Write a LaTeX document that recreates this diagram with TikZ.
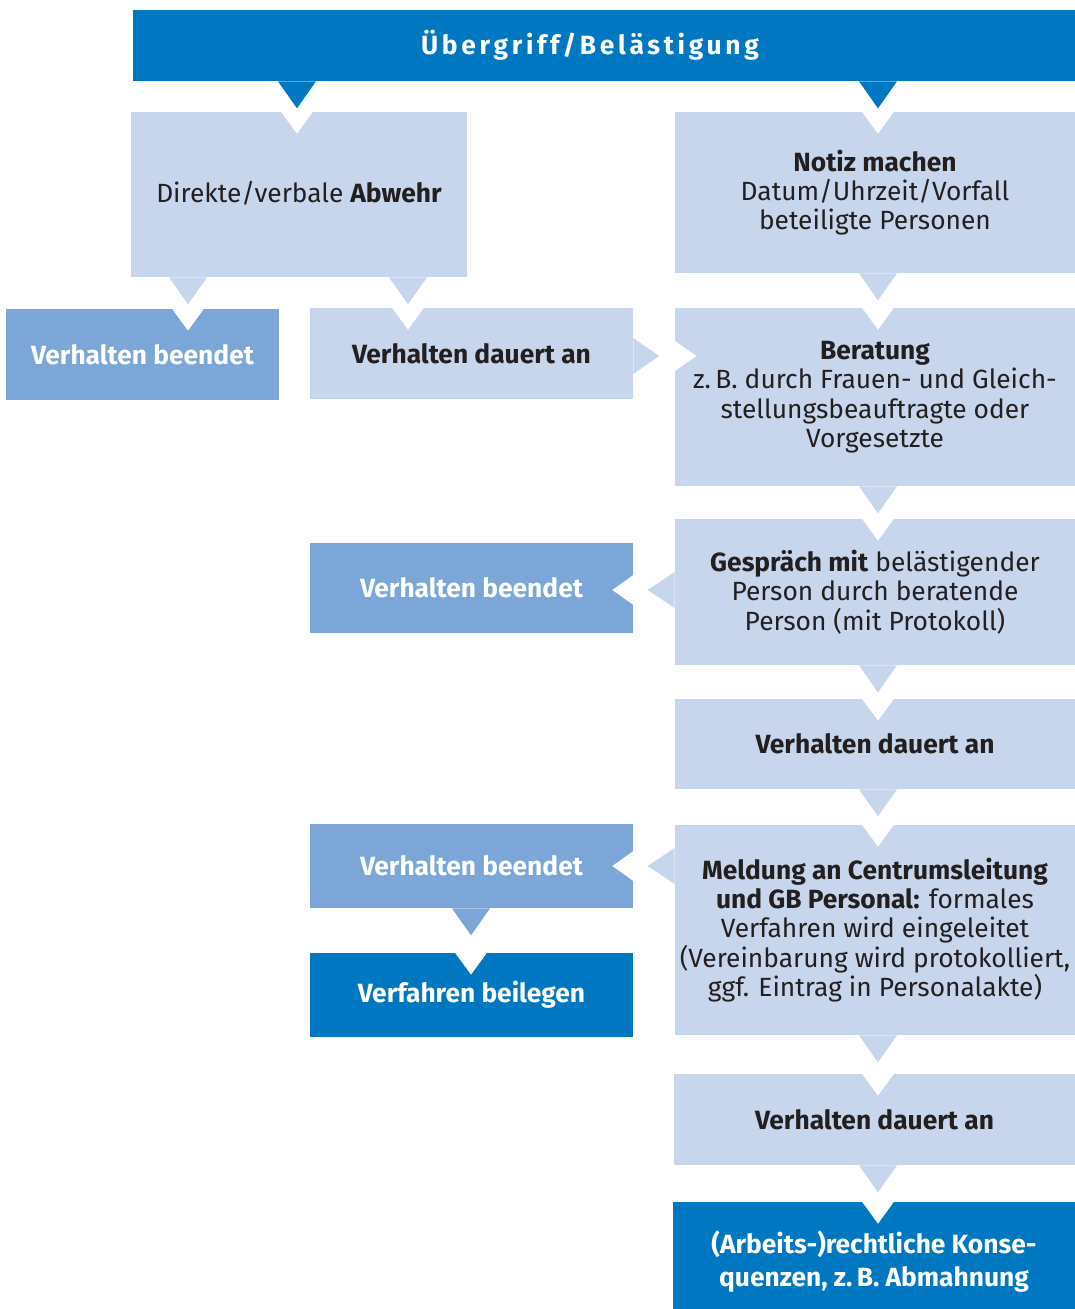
\documentclass[tikz,border=0pt]{standalone}
\usepackage{fontspec}
\setmainfont{Fira Sans}
\usepackage{tikz}

\definecolor{darkblue}{RGB}{0,120,193}
\definecolor{midblue}{RGB}{123,166,215}
\definecolor{lightblue}{RGB}{199,214,236}
\definecolor{darktext}{RGB}{35,31,32}

\newcommand{\fsz}{\fontsize{15}{16.7}\selectfont}

% tab under #1 and notch in #2 at x=#3, colour #4
\newcommand{\tabdown}[4]{%
  \fill[#4] (#1.south -| #3,0) ++(-19,0) -- ++(19,27) -- ++(19,-27) -- cycle;
  \fill[white] (#2.north -| #3,0) ++(-16,0) -- ++(16,22) -- ++(16,-22) -- cycle;
}
% tab right of #1 and notch in #2 at y=#3
\newcommand{\tabright}[4]{%
  \fill[#4] (#1.east |- 0,#3) ++(0,-18) -- ++(26,18) -- ++(-26,18) -- cycle;
  \fill[white] (#2.west |- 0,#3) ++(0,-15) -- ++(22,15) -- ++(-22,15) -- cycle;
}
% tab left of #1 and notch in #2 at y=#3
\newcommand{\tableft}[4]{%
  \fill[#4] (#1.west |- 0,#3) ++(0,-18) -- ++(-27,18) -- ++(27,18) -- cycle;
  \fill[white] (#2.east |- 0,#3) ++(0,-15) -- ++(-21,15) -- ++(21,15) -- cycle;
}

\tikzset{
  box/.style={rectangle, inner sep=0pt, align=center, font=\fsz},
  light/.style={box, fill=lightblue, text=darktext},
  mid/.style={box, fill=midblue, text=white, font=\fsz\bfseries},
  dark/.style={box, fill=darkblue, text=white, font=\fsz\bfseries},
}

\begin{document}
\begin{tikzpicture}[x=0.02cm, y=-0.02cm]
\useasboundingbox (0,0) rectangle (1075,1309);

% boxes
\node[dark, minimum width=18.84cm, minimum height=1.42cm] (head) at (604,45.5)
  {\hspace*{-0.56cm}\addfontfeature{LetterSpace=14}Übergriff/Belästigung};
\node[light, minimum width=6.72cm, minimum height=3.30cm] (abwehr) at (299,194.5)
  {Direkte/verbale \textbf{Abwehr}\rule[-0.1cm]{0pt}{0.1cm}};
\node[light, minimum width=8.00cm, minimum height=3.22cm] (notiz) at (875,192.5)
  {\textbf{Notiz machen}\\Datum/Uhrzeit/Vorfall\\beteiligte Personen};
\node[mid, minimum width=5.46cm, minimum height=1.82cm] (ende1) at (142.5,354.5)
  {Verhalten beendet};
\node[light, minimum width=6.46cm, minimum height=1.82cm] (dauert1) at (471.5,353.5)
  {\textbf{Verhalten dauert an}};
\node[light, minimum width=8.00cm, minimum height=3.56cm] (beratung) at (875,397)
  {\textbf{Beratung}\\z.\,B. durch Frauen- und Gleich-\\stellungsbeauftragte oder\\Vorgesetzte};
\node[mid, minimum width=6.46cm, minimum height=1.80cm] (ende2) at (471.5,588)
  {Verhalten beendet};
\node[light, minimum width=8.00cm, minimum height=2.92cm] (gespraech) at (875,592)
  {\textbf{Gespräch mit} belästigender\\Person durch beratende\\Person (mit Protokoll)};
\node[light, minimum width=8.00cm, minimum height=1.80cm] (dauert2) at (875,744)
  {\textbf{Verhalten dauert an}};
\node[light, minimum width=8.00cm, minimum height=4.20cm] (meldung) at (875,930)
  {\textbf{Meldung an Centrumsleitung}\\\textbf{und GB Personal:} formales\\Verfahren wird eingeleitet\\(Vereinbarung wird protokolliert,\\ggf. Eintrag in Personalakte)};
\node[mid, minimum width=6.46cm, minimum height=1.68cm] (ende3) at (471.5,866)
  {Verhalten beendet};
\node[dark, minimum width=6.46cm, minimum height=1.68cm] (beilegen) at (471.5,995)
  {Verfahren beilegen};
\node[light, minimum width=8.02cm, minimum height=1.82cm] (dauert3) at (874.5,1119.5)
  {\textbf{Verhalten dauert an}};
\node[dark, minimum width=8.04cm, minimum height=2.14cm] (folgen) at (874,1255.5)
  {\rule{0pt}{0.7cm}(Arbeits-)rechtliche Konse-\\[2pt]quenzen, z.\,B. Abmahnung};

% tabs
\tabdown{head}{abwehr}{297}{darkblue}
\tabdown{head}{notiz}{878}{darkblue}
\tabdown{abwehr}{ende1}{188}{lightblue}
\tabdown{abwehr}{dauert1}{408}{lightblue}
\tabdown{notiz}{beratung}{878}{lightblue}
\tabright{dauert1}{beratung}{356}{lightblue}
\tabdown{beratung}{gespraech}{878}{lightblue}
\tableft{gespraech}{ende2}{590}{lightblue}
\tabdown{gespraech}{dauert2}{878}{lightblue}
\tabdown{dauert2}{meldung}{878}{lightblue}
\tableft{meldung}{ende3}{866}{lightblue}
\tabdown{ende3}{beilegen}{471}{midblue}
\tabdown{meldung}{dauert3}{878}{lightblue}
\tabdown{dauert3}{folgen}{878}{lightblue}
\end{tikzpicture}
\end{document}
